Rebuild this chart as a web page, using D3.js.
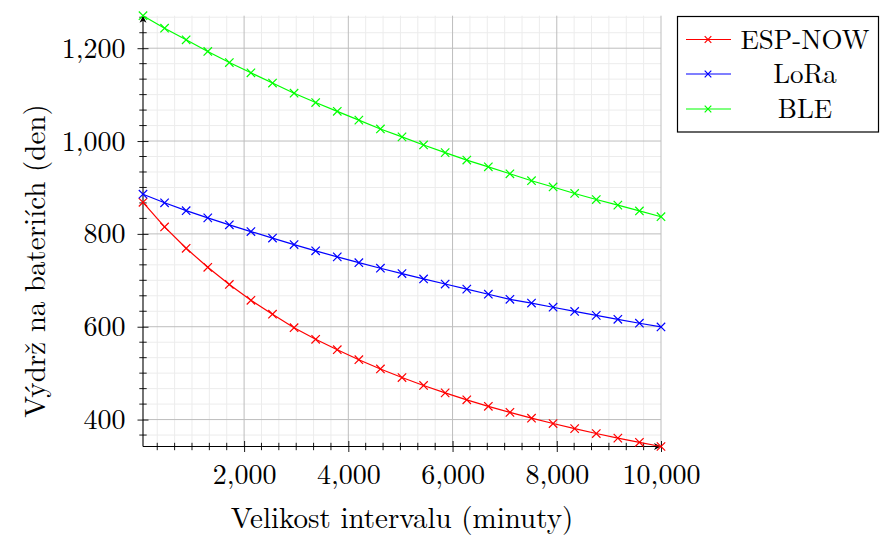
<!DOCTYPE html>
<html>
<head>
<meta charset="utf-8">
<script src="https://cdn.jsdelivr.net/npm/d3@7"></script>
<style>
  html, body { margin: 0; padding: 0; background: #ffffff; }
  svg { display: block; }
</style>
</head>
<body>
<svg id="chart" width="880" height="535"></svg>
<script>
// ---- data ----
const intervals = [60, 474, 888, 1303, 1717, 2131, 2545, 2959, 3373, 3788, 4202, 4616, 5030,
                   5444, 5858, 6273, 6687, 7101, 7515, 7929, 8343, 8758, 9172, 9586, 10000];
const espNow = [868, 815, 769, 728, 691, 657, 627, 598, 573, 550.5, 529, 509, 490.5,
                473.5, 457.5, 442.5, 428.5, 415.5, 403, 391.5, 380.5, 370, 360, 351, 342];
const lora = [885.5, 867, 850, 834.5, 819.5, 805, 791, 777, 763.5, 750.5, 738, 726, 714.5,
              703, 692, 681, 670, 659, 651, 642, 633, 624.5, 616, 607.5, 599.5];
const ble = [1270, 1243, 1218, 1193, 1169, 1147, 1125, 1103, 1083, 1064, 1045, 1026, 1009,
             991.5, 975, 959, 944.5, 929.5, 914.5, 901, 887, 874, 862, 849.5, 837];
const seriesNames = ["ESP-NOW", "LoRa", "BLE"];
const seriesColors = ["#ff0000", "#0000ff", "#00ff00"];
const xTickValues = [2000, 4000, 6000, 8000, 10000];
const yTickValues = [400, 600, 800, 1000, 1200];
const xLabel = "Velikost intervalu (minuty)";
const yLabel = "Výdrž na bateriích (den)";

const seriesValues = [espNow, lora, ble];
const FONT = '"Latin Modern Roman", "Liberation Serif", serif';

// ---- layout ----
const plot = { left: 143, right: 661, top: 15.7, bottom: 446.5 };
const svg = d3.select("#chart");

const allY = seriesValues.flat();
const x = d3.scaleLinear().domain([d3.min(intervals), d3.max(intervals)]).range([plot.left, plot.right]);
const y = d3.scaleLinear().domain([d3.min(allY), d3.max(allY)]).range([plot.bottom, plot.top]);

// minor grid positions (5 minor ticks between majors)
const xMinorStep = 2000 / 6, yMinorStep = 200 / 6;
const xMinor = d3.range(0, 60).map(i => i * xMinorStep)
  .filter(v => v > x.domain()[0] + 1 && v <= x.domain()[1] + 1 && Math.abs(v / 2000 - Math.round(v / 2000)) > 1e-6);
const yMinor = d3.range(0, 60).map(i => i * yMinorStep)
  .filter(v => v >= y.domain()[0] && v <= y.domain()[1] && Math.abs(v / 200 - Math.round(v / 200)) > 1e-6);

const grid = svg.append("g");
grid.selectAll(".xminor").data(xMinor).join("line")
  .attr("x1", d => x(d)).attr("x2", d => x(d))
  .attr("y1", plot.top).attr("y2", plot.bottom)
  .attr("stroke", "#ececec").attr("stroke-width", 1);
grid.selectAll(".yminor").data(yMinor).join("line")
  .attr("x1", plot.left).attr("x2", plot.right)
  .attr("y1", d => y(d)).attr("y2", d => y(d))
  .attr("stroke", "#ececec").attr("stroke-width", 1);
grid.selectAll(".xmajor").data(xTickValues).join("line")
  .attr("x1", d => x(d)).attr("x2", d => x(d))
  .attr("y1", plot.top).attr("y2", plot.bottom)
  .attr("stroke", "#bdbdbd").attr("stroke-width", 1);
grid.selectAll(".ymajor").data(yTickValues).join("line")
  .attr("x1", plot.left).attr("x2", plot.right)
  .attr("y1", d => y(d)).attr("y2", d => y(d))
  .attr("stroke", "#bdbdbd").attr("stroke-width", 1);

// ---- axes ----
const defs = svg.append("defs");
defs.append("marker").attr("id", "arrow")
  .attr("viewBox", "-8 -4 9 8").attr("refX", 0).attr("refY", 0)
  .attr("markerWidth", 9).attr("markerHeight", 8)
  .attr("markerUnits", "userSpaceOnUse").attr("orient", "auto")
  .append("path").attr("d", "M0,0 L-7,-3.5 L-5,0 L-7,3.5 Z").attr("fill", "#000");

const fmt = d3.format(",");

const xAxisG = svg.append("g").attr("transform", `translate(0,${plot.bottom})`)
  .call(d3.axisBottom(x).tickValues(xTickValues).tickFormat(fmt).tickSizeInner(5.5).tickSizeOuter(0).tickPadding(12));
xAxisG.select(".domain").remove();
xAxisG.selectAll(".tick line").attr("y1", -5.5).attr("y2", 5.5).attr("stroke", "#000").attr("stroke-width", 0.9);
xAxisG.selectAll(".tick text").style("font-family", FONT).style("font-size", "28px").attr("fill", "#000").attr("dy", "0.71em");

const yAxisG = svg.append("g").attr("transform", `translate(${plot.left},0)`)
  .call(d3.axisLeft(y).tickValues(yTickValues).tickFormat(fmt).tickSizeInner(5.5).tickSizeOuter(0).tickPadding(12));
yAxisG.select(".domain").remove();
yAxisG.selectAll(".tick line").attr("x1", -5.5).attr("x2", 5.5).attr("stroke", "#000").attr("stroke-width", 0.9);
yAxisG.selectAll(".tick text").style("font-family", FONT).style("font-size", "28px").attr("fill", "#000");

// minor ticks
svg.append("g").selectAll("line").data(xMinor).join("line")
  .attr("x1", d => x(d)).attr("x2", d => x(d))
  .attr("y1", plot.bottom - 3.7).attr("y2", plot.bottom + 3.7)
  .attr("stroke", "#000").attr("stroke-width", 0.9);
svg.append("g").selectAll("line").data(yMinor).join("line")
  .attr("x1", plot.left - 3.7).attr("x2", plot.left + 3.7)
  .attr("y1", d => y(d)).attr("y2", d => y(d))
  .attr("stroke", "#000").attr("stroke-width", 0.9);

// axis lines with arrows
svg.append("line").attr("x1", plot.left).attr("y1", plot.bottom).attr("x2", plot.right).attr("y2", plot.bottom)
  .attr("stroke", "#000").attr("stroke-width", 1.1).attr("marker-end", "url(#arrow)");
svg.append("line").attr("x1", plot.left).attr("y1", plot.bottom).attr("x2", plot.left).attr("y2", plot.top)
  .attr("stroke", "#000").attr("stroke-width", 1.1).attr("marker-end", "url(#arrow)");

// ---- series ----
const line = d3.line().x((d, i) => x(intervals[i])).y(d => y(d));
const crossPath = s => `M${-s},${-s}L${s},${s}M${-s},${s}L${s},${-s}`;

seriesValues.forEach((vals, k) => {
  const g = svg.append("g");
  g.append("path").datum(vals).attr("d", line)
    .attr("fill", "none").attr("stroke", seriesColors[k]).attr("stroke-width", 1.2);
  g.selectAll("path.mk").data(vals).join("path").attr("class", "mk")
    .attr("transform", (d, i) => `translate(${x(intervals[i])},${y(d)})`)
    .attr("d", crossPath(4.2))
    .attr("stroke", seriesColors[k]).attr("stroke-width", 1.2).attr("fill", "none");
});

// ---- axis labels ----
svg.append("text").attr("x", (plot.left + plot.right) / 2).attr("y", 528)
  .attr("text-anchor", "middle").attr("fill", "#000")
  .style("font-family", FONT).style("font-size", "29px").text(xLabel);
svg.append("text").attr("transform", `translate(45,261) rotate(-90)`)
  .attr("text-anchor", "middle").attr("fill", "#000")
  .style("font-family", FONT).style("font-size", "29px").text(yLabel);

// ---- legend ----
const lg = svg.append("g");
lg.append("rect").attr("x", 677.5).attr("y", 16.5).attr("width", 201).attr("height", 115.5)
  .attr("fill", "#fff").attr("stroke", "#000").attr("stroke-width", 1.2);
const rowY = [39.5, 74, 109];
seriesNames.forEach((name, k) => {
  lg.append("line").attr("x1", 686).attr("x2", 731).attr("y1", rowY[k]).attr("y2", rowY[k])
    .attr("stroke", seriesColors[k]).attr("stroke-width", 1.2);
  lg.append("path").attr("transform", `translate(708,${rowY[k]})`).attr("d", crossPath(3.3))
    .attr("stroke", seriesColors[k]).attr("stroke-width", 1.2).attr("fill", "none");
  lg.append("text").attr("x", 805).attr("y", rowY[k]).attr("dy", "0.35em")
    .attr("text-anchor", "middle").attr("fill", "#000")
    .style("font-family", FONT).style("font-size", "27px").text(name);
});
</script>
</body>
</html>
